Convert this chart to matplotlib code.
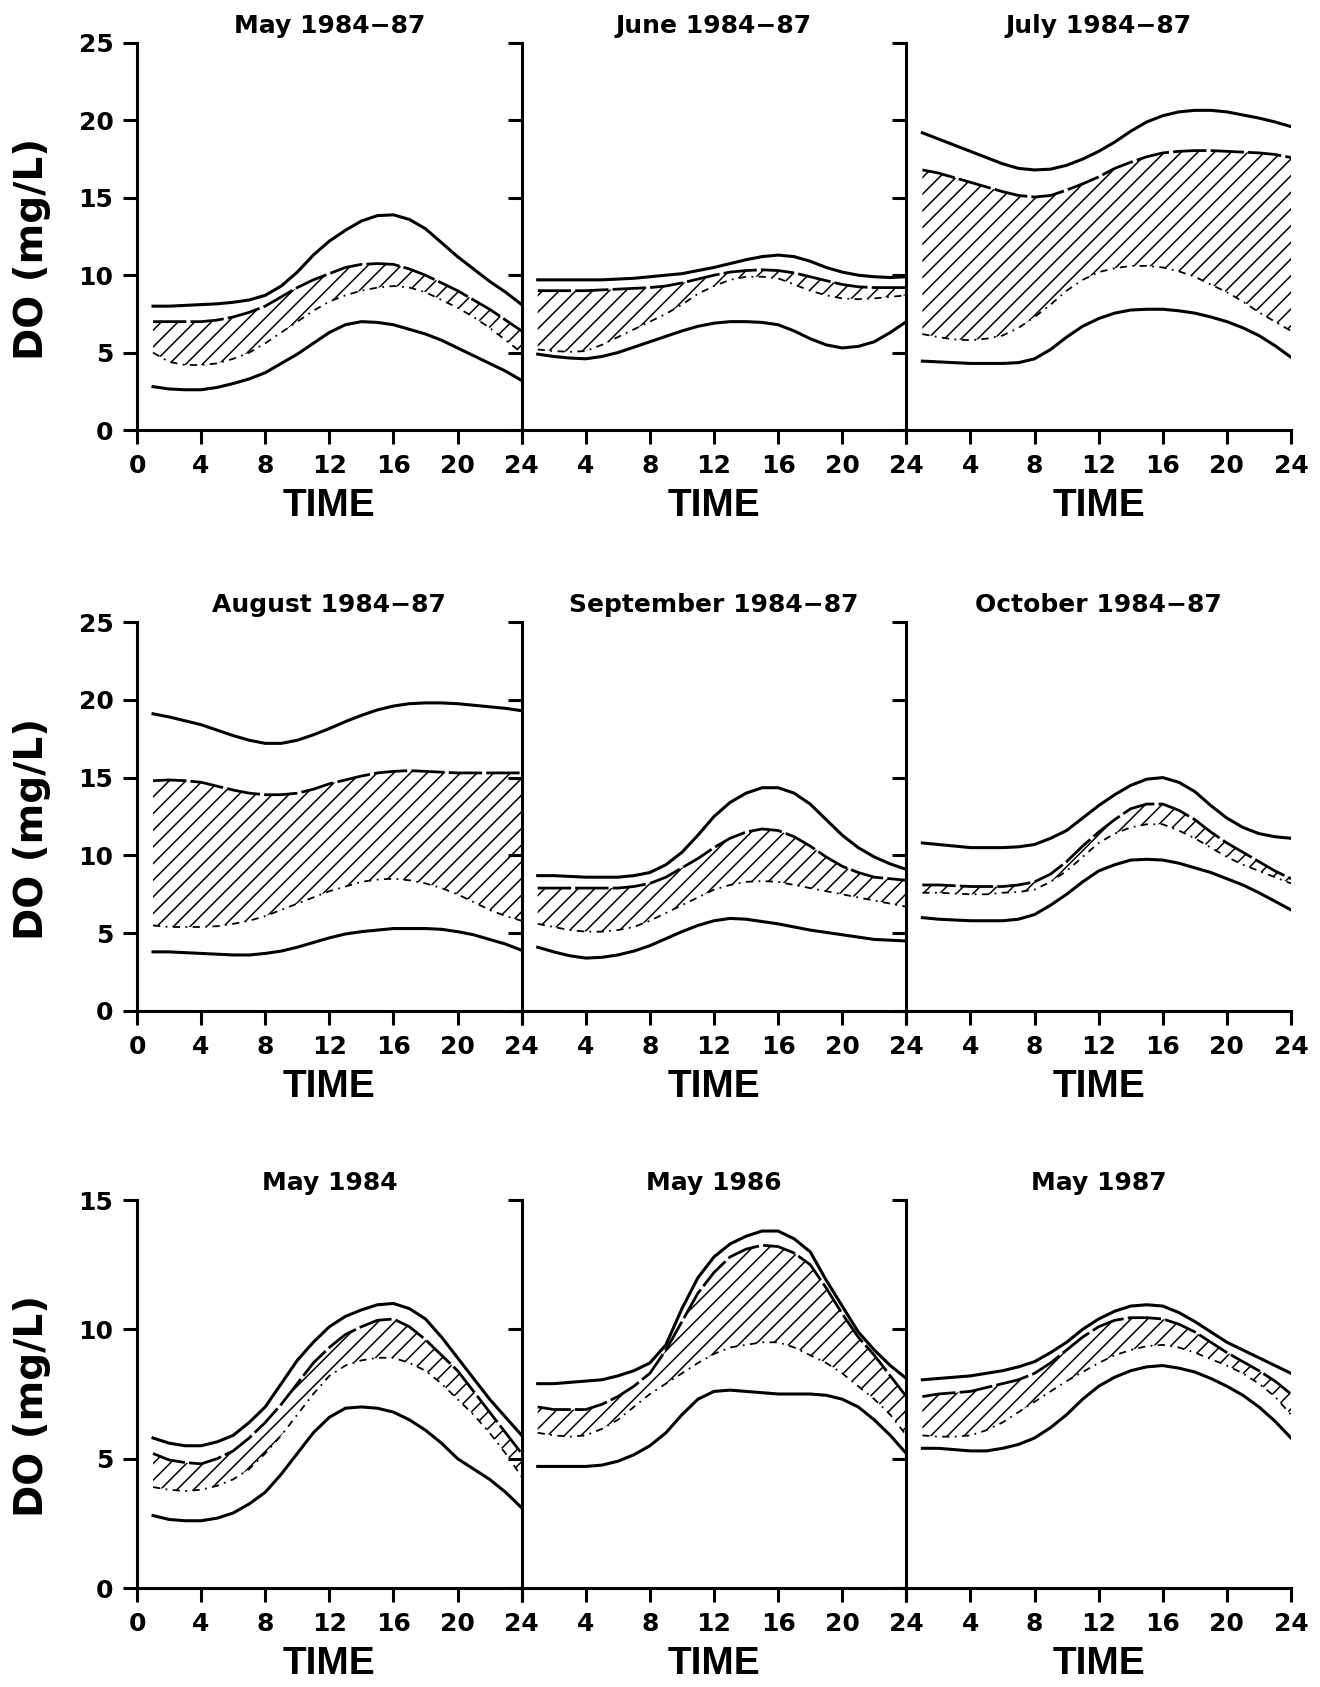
import numpy as np
import matplotlib
matplotlib.use('Agg')
import matplotlib.pyplot as plt

# hourly values
hours = list(range(1, 25))

titles = ['May 1984−87', 'June 1984−87', 'July 1984−87',
          'August 1984−87', 'September 1984−87', 'October 1984−87',
          'May 1984', 'May 1986', 'May 1987']

# upper envelope (solid)
upper = [
    [8.0, 8.0, 8.05, 8.1, 8.15, 8.25, 8.4, 8.7, 9.3, 10.2, 11.3, 12.2, 12.9, 13.5, 13.85, 13.9, 13.6, 13.0, 12.1, 11.2, 10.4, 9.6, 8.9, 8.1],
    [9.7, 9.7, 9.7, 9.7, 9.7, 9.75, 9.8, 9.9, 10.0, 10.1, 10.3, 10.5, 10.75, 11.0, 11.2, 11.3, 11.2, 10.9, 10.5, 10.2, 10.0, 9.9, 9.85, 9.9],
    [19.2, 18.8, 18.4, 18.0, 17.6, 17.2, 16.9, 16.8, 16.85, 17.1, 17.5, 18.0, 18.6, 19.3, 19.9, 20.3, 20.55, 20.65, 20.65, 20.55, 20.35, 20.15, 19.9, 19.6],
    [19.1, 18.9, 18.65, 18.4, 18.05, 17.7, 17.4, 17.2, 17.2, 17.4, 17.75, 18.15, 18.6, 19.0, 19.35, 19.6, 19.75, 19.8, 19.8, 19.75, 19.65, 19.55, 19.45, 19.3],
    [8.7, 8.7, 8.65, 8.6, 8.6, 8.6, 8.7, 8.9, 9.4, 10.2, 11.3, 12.5, 13.4, 14.0, 14.35, 14.35, 14.0, 13.3, 12.3, 11.3, 10.5, 9.9, 9.45, 9.1],
    [10.8, 10.7, 10.6, 10.5, 10.5, 10.5, 10.55, 10.7, 11.1, 11.6, 12.4, 13.2, 13.9, 14.5, 14.9, 15.0, 14.7, 14.1, 13.2, 12.4, 11.8, 11.4, 11.2, 11.1],
    [5.8, 5.6, 5.5, 5.5, 5.65, 5.9, 6.4, 7.0, 7.9, 8.8, 9.5, 10.1, 10.5, 10.75, 10.95, 11.0, 10.8, 10.4, 9.7, 8.9, 8.1, 7.3, 6.6, 5.9],
    [7.9, 7.9, 7.95, 8.0, 8.05, 8.2, 8.4, 8.7, 9.4, 10.8, 12.0, 12.8, 13.3, 13.6, 13.8, 13.8, 13.5, 13.0, 11.9, 10.9, 9.9, 9.2, 8.6, 8.1],
    [8.05, 8.1, 8.15, 8.2, 8.3, 8.4, 8.55, 8.75, 9.1, 9.5, 10.0, 10.4, 10.7, 10.9, 10.95, 10.9, 10.65, 10.3, 9.9, 9.5, 9.2, 8.9, 8.6, 8.3],
]

# long-dashed line (top of hatched band)
dashed = [
    [7.0, 7.0, 7.0, 7.0, 7.1, 7.3, 7.6, 8.0, 8.6, 9.2, 9.7, 10.1, 10.5, 10.7, 10.75, 10.7, 10.4, 10.0, 9.5, 9.0, 8.4, 7.8, 7.1, 6.4],
    [9.0, 9.0, 9.0, 9.0, 9.05, 9.1, 9.15, 9.2, 9.3, 9.5, 9.75, 10.0, 10.2, 10.3, 10.35, 10.3, 10.15, 9.9, 9.65, 9.4, 9.25, 9.2, 9.2, 9.2],
    [16.8, 16.6, 16.3, 16.0, 15.7, 15.4, 15.15, 15.05, 15.15, 15.5, 15.9, 16.35, 16.9, 17.3, 17.65, 17.9, 18.0, 18.05, 18.05, 18.0, 17.95, 17.9, 17.8, 17.6],
    [14.8, 14.85, 14.8, 14.7, 14.45, 14.2, 14.0, 13.9, 13.9, 14.0, 14.25, 14.6, 14.85, 15.1, 15.3, 15.4, 15.45, 15.4, 15.35, 15.3, 15.3, 15.3, 15.3, 15.3],
    [7.9, 7.9, 7.9, 7.9, 7.9, 7.9, 8.0, 8.2, 8.6, 9.2, 9.8, 10.5, 11.1, 11.5, 11.7, 11.6, 11.2, 10.6, 9.9, 9.3, 8.9, 8.6, 8.5, 8.4],
    [8.1, 8.1, 8.05, 8.0, 8.0, 8.0, 8.1, 8.3, 8.8, 9.6, 10.6, 11.5, 12.3, 13.0, 13.3, 13.3, 12.9, 12.3, 11.5, 10.8, 10.2, 9.6, 9.0, 8.5],
    [5.2, 4.95, 4.85, 4.8, 5.0, 5.3, 5.8, 6.4, 7.1, 7.9, 8.7, 9.3, 9.8, 10.1, 10.35, 10.4, 10.1, 9.6, 9.0, 8.4, 7.6, 6.8, 6.0, 5.2],
    [7.0, 6.9, 6.9, 6.9, 7.1, 7.4, 7.8, 8.3, 9.2, 10.3, 11.4, 12.2, 12.8, 13.1, 13.25, 13.2, 12.95, 12.5, 11.6, 10.6, 9.7, 9.0, 8.2, 7.4],
    [7.4, 7.5, 7.55, 7.6, 7.75, 7.9, 8.05, 8.3, 8.7, 9.2, 9.7, 10.1, 10.35, 10.45, 10.45, 10.4, 10.2, 9.9, 9.5, 9.1, 8.75, 8.4, 8.0, 7.5],
]

# dash-dot line (bottom of hatched band)
dotted = [
    [5.0, 4.4, 4.2, 4.2, 4.3, 4.6, 5.0, 5.6, 6.3, 7.0, 7.7, 8.3, 8.7, 9.0, 9.2, 9.3, 9.2, 8.9, 8.4, 7.9, 7.3, 6.6, 5.8, 5.0],
    [5.2, 5.1, 5.05, 5.1, 5.5, 6.0, 6.5, 7.0, 7.5, 8.1, 8.8, 9.3, 9.7, 9.9, 9.9, 9.8, 9.4, 9.0, 8.7, 8.5, 8.45, 8.5, 8.6, 8.7],
    [6.2, 6.0, 5.85, 5.8, 5.9, 6.1, 6.6, 7.3, 8.1, 9.0, 9.7, 10.2, 10.45, 10.6, 10.6, 10.5, 10.25, 9.9, 9.4, 8.9, 8.3, 7.6, 7.0, 6.4],
    [5.5, 5.4, 5.4, 5.4, 5.45, 5.6, 5.8, 6.1, 6.5, 6.9, 7.3, 7.7, 8.0, 8.3, 8.45, 8.5, 8.4, 8.2, 7.9, 7.5, 7.0, 6.5, 6.1, 5.8],
    [5.6, 5.4, 5.2, 5.1, 5.1, 5.2, 5.4, 5.8, 6.3, 6.8, 7.3, 7.8, 8.1, 8.3, 8.35, 8.3, 8.1, 7.9, 7.7, 7.5, 7.3, 7.1, 6.9, 6.7],
    [7.6, 7.6, 7.55, 7.5, 7.5, 7.6, 7.65, 7.8, 8.3, 9.0, 9.9, 10.8, 11.4, 11.8, 12.0, 12.0, 11.6, 11.1, 10.5, 9.9, 9.4, 9.0, 8.6, 8.2],
    [3.9, 3.8, 3.75, 3.8, 3.95, 4.2, 4.6, 5.2, 5.9, 6.7, 7.5, 8.2, 8.6, 8.8, 8.9, 8.9, 8.7, 8.4, 7.9, 7.3, 6.7, 6.0, 5.2, 4.3],
    [6.0, 5.9, 5.85, 5.9, 6.15, 6.5, 7.0, 7.5, 7.9, 8.3, 8.7, 9.05, 9.3, 9.4, 9.5, 9.5, 9.3, 9.0, 8.7, 8.3, 7.8, 7.3, 6.7, 5.9],
    [5.9, 5.85, 5.85, 5.9, 6.1, 6.4, 6.8, 7.2, 7.6, 8.0, 8.35, 8.7, 9.0, 9.2, 9.35, 9.4, 9.3, 9.1, 8.85, 8.6, 8.3, 7.9, 7.4, 6.7],
]

# lower envelope (solid)
lower = [
    [2.8, 2.65, 2.6, 2.6, 2.75, 3.0, 3.3, 3.7, 4.3, 4.9, 5.6, 6.3, 6.8, 7.0, 6.95, 6.8, 6.5, 6.2, 5.8, 5.3, 4.8, 4.3, 3.8, 3.2],
    [4.9, 4.75, 4.65, 4.6, 4.75, 5.0, 5.35, 5.7, 6.05, 6.4, 6.7, 6.9, 7.0, 7.0, 6.95, 6.8, 6.4, 5.9, 5.5, 5.3, 5.4, 5.7, 6.3, 7.0],
    [4.45, 4.4, 4.35, 4.3, 4.3, 4.3, 4.35, 4.6, 5.2, 6.0, 6.7, 7.2, 7.55, 7.75, 7.8, 7.8, 7.7, 7.55, 7.3, 7.0, 6.6, 6.1, 5.45, 4.7],
    [3.8, 3.8, 3.75, 3.7, 3.65, 3.6, 3.6, 3.7, 3.85, 4.1, 4.4, 4.7, 4.95, 5.1, 5.2, 5.3, 5.3, 5.3, 5.25, 5.1, 4.9, 4.6, 4.3, 3.9],
    [4.1, 3.8, 3.55, 3.4, 3.45, 3.6, 3.85, 4.2, 4.65, 5.1, 5.5, 5.8, 5.95, 5.9, 5.75, 5.6, 5.4, 5.2, 5.05, 4.9, 4.75, 4.6, 4.55, 4.5],
    [6.0, 5.9, 5.85, 5.8, 5.8, 5.8, 5.9, 6.2, 6.8, 7.5, 8.3, 9.0, 9.4, 9.7, 9.75, 9.7, 9.5, 9.2, 8.9, 8.5, 8.1, 7.6, 7.05, 6.5],
    [2.8, 2.65, 2.6, 2.6, 2.7, 2.9, 3.25, 3.7, 4.4, 5.2, 6.0, 6.6, 6.95, 7.0, 6.95, 6.8, 6.5, 6.1, 5.6, 5.0, 4.6, 4.2, 3.7, 3.1],
    [4.7, 4.7, 4.7, 4.7, 4.75, 4.9, 5.15, 5.5, 6.0, 6.7, 7.3, 7.6, 7.65, 7.6, 7.55, 7.5, 7.5, 7.5, 7.45, 7.3, 7.0, 6.5, 5.9, 5.2],
    [5.4, 5.4, 5.35, 5.3, 5.3, 5.4, 5.55, 5.8, 6.2, 6.7, 7.3, 7.8, 8.15, 8.4, 8.55, 8.6, 8.5, 8.35, 8.1, 7.8, 7.45, 7.0, 6.45, 5.8],
]

ymax = [25, 25, 15]
xticks = [0, 4, 8, 12, 16, 20, 24]

plt.rcParams['hatch.linewidth'] = 1.1

fig = plt.figure(figsize=(13.2, 16.87), dpi=100)

left = 137 / 1320
width = (1291 - 137) / 3 / 1320
rows_px = [(43, 430), (622, 1011), (1200, 1588)]

for i in range(9):
    r, c = divmod(i, 3)
    top, bot = rows_px[r]
    ax = fig.add_axes([left + c * width, 1 - bot / 1687, width, (bot - top) / 1687])

    ax.fill_between(hours, dotted[i], dashed[i], facecolor='none', edgecolor='black',
                    hatch='//', linewidth=0)
    ax.plot(hours, upper[i], color='black', lw=2.2, solid_joinstyle='round')
    ax.plot(hours, lower[i], color='black', lw=2.2, solid_joinstyle='round')
    ax.plot(hours, dashed[i], color='black', lw=2.0, linestyle=(0, (12, 1.5)))
    ax.plot(hours, dotted[i], color='black', lw=1.3, linestyle=(0, (4, 3, 1, 3)))

    ax.set_xlim(0, 24)
    ax.set_ylim(0, ymax[r])
    ax.set_xticks(xticks)
    if c == 0:
        ax.set_xticklabels([str(t) for t in xticks])
    else:
        ax.set_xticklabels([''] + [str(t) for t in xticks[1:]])
    ax.set_yticks(np.arange(0, ymax[r] + 1, 5))
    if c != 0:
        ax.set_yticklabels([])

    for s in ['top', 'right']:
        ax.spines[s].set_visible(False)
    for s in ['left', 'bottom']:
        ax.spines[s].set_linewidth(2.2)
    ax.tick_params(direction='out', length=10, width=2.2, pad=7,
                   labelsize=18)
    for lab in ax.get_xticklabels() + ax.get_yticklabels():
        lab.set_fontweight('bold')

    ax.set_title(titles[i], fontsize=18, fontweight='bold', pad=7)
    h = bot - top
    ax.text(0.5, -76 / h, 'TIME', transform=ax.transAxes, ha='center', va='center',
            fontsize=28, fontweight='bold', family=['Liberation Sans', 'DejaVu Sans'])
    if c == 0:
        fig.text(32 / 1320, 1 - ((top + bot) / 2 + 12) / 1687, 'DO (mg/L)',
                 rotation=90, ha='center', va='center', fontsize=28, fontweight='bold')

fig.savefig('out.png', dpi=100)
